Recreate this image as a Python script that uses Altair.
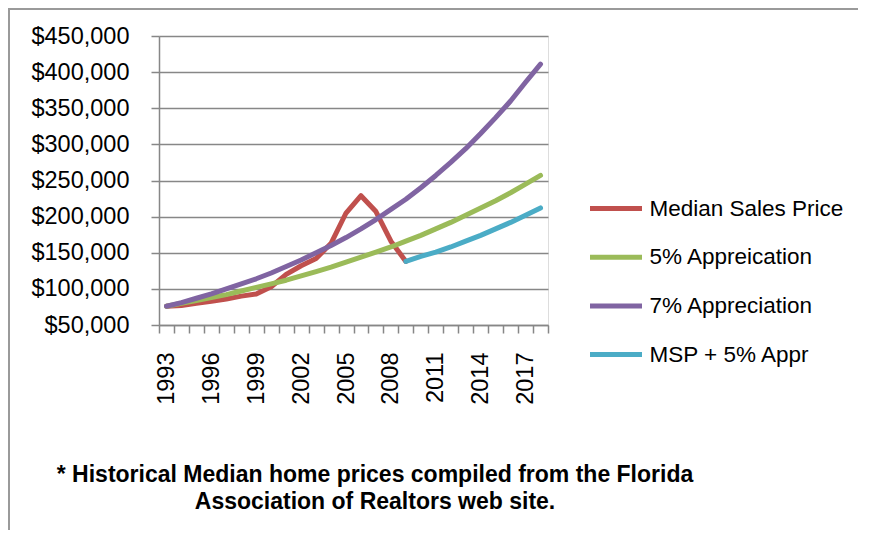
import altair as alt
import pandas as pd

years = list(range(1993, 2019))
median_sales = [76000, 77000, 80000, 83000, 86000, 90000, 93000, 103000, 120000,
                132000, 142000, 163000, 205000, 229000, 207000, 166000, 138000] + [None] * 9
appr5 = [76000, 80000, 84000, 88000, 92000, 97000, 102000, 107000, 112000, 118000,
         124000, 130000, 137000, 144000, 151000, 158000, 166000, 174000, 183000, 192000,
         202000, 212000, 222000, 233000, 245000, 257000]
appr7 = [76000, 81000, 87000, 93000, 100000, 107000, 114000, 122000, 131000, 140000,
         150000, 160000, 171000, 183000, 196000, 210000, 224000, 240000, 257000, 275000,
         294000, 315000, 337000, 360000, 386000, 411000]
msp5 = [None] * 16 + [138000, 145000, 151000, 158000, 166000, 174000, 183000, 192000,
                      202000, 212000]

series_names = ["Median Sales Price", "5% Appreication", "7% Appreciation", "MSP + 5% Appr"]
series_values = [median_sales, appr5, appr7, msp5]
colors = ["#C0504D", "#9BBB59", "#8064A2", "#4BACC6"]

y_ticks = [50000, 100000, 150000, 200000, 250000, 300000, 350000, 400000, 450000]
x_label_years = [1993, 1996, 1999, 2002, 2005, 2008, 2011, 2014, 2017]
x_tick_edges = [y - 0.5 for y in years] + [years[-1] + 0.5]

footnote_lines = ["* Historical Median home prices compiled from the Florida",
                  "Association of Realtors web site."]

rows = []
for name, vals in zip(series_names, series_values):
    for yr, v in zip(years, vals):
        if v is not None:
            rows.append({"year": yr, "price": v, "series": name})
df = pd.DataFrame(rows)

FONT = "Liberation Sans"
GRAY = "#878787"
W, H = 389, 289

label_list = ",".join(str(v) for v in x_label_years)
x_axis = alt.Axis(
    values=x_tick_edges,
    labelExpr=f"indexof([{label_list}], datum.value + 0.5) >= 0 ? toString(datum.value + 0.5) : ''",
    labelOffset=W / len(years) / 2,
    labelAngle=270,
    labelPadding=19,
    labelFont=FONT,
    labelFontSize=23.5,
    labelColor="#000000",
    labelOverlap=False,
    labelFlush=False,
    tickSize=8,
    tickColor=GRAY,
    tickWidth=1.5,
    domainColor=GRAY,
    domainWidth=1.5,
    grid=False,
    title=None,
)
y_axis = alt.Axis(
    values=y_ticks,
    format="$,.0f",
    labelFont=FONT,
    labelFontSize=23.5,
    labelColor="#000000",
    labelPadding=22,
    tickSize=8,
    tickColor=GRAY,
    tickWidth=1.5,
    domainColor=GRAY,
    domainWidth=1.5,
    gridColor=GRAY,
    gridWidth=1.5,
    title=None,
)
legend = alt.Legend(
    title=None,
    orient="none",
    legendX=428.5,
    legendY=144,
    padding=0,
    symbolType="stroke",
    symbolSize=2704,
    symbolStrokeWidth=5,
    labelFont=FONT,
    labelFontSize=22.5,
    labelColor="#000000",
    labelOffset=5,
    labelLimit=0,
    rowPadding=8.7,
)

x_enc = alt.X("year:Q", scale=alt.Scale(domain=[1992.5, 2018.5], nice=False, zero=False), axis=x_axis)
y_enc = alt.Y("price:Q", scale=alt.Scale(domain=[50000, 450000], nice=False, zero=False), axis=y_axis)
c_enc = alt.Color("series:N", scale=alt.Scale(domain=series_names, range=colors), legend=legend)

layers = []
for name in series_names:
    layers.append(
        alt.Chart(df)
        .transform_filter(alt.datum.series == name)
        .mark_line(strokeWidth=5, strokeCap="round", strokeJoin="round")
        .encode(x=x_enc, y=y_enc, color=c_enc, order="year:Q")
    )

one = pd.DataFrame({"a": [0]})
frame_top = alt.Chart(one).mark_rule(color="#9a9a9a", strokeWidth=2).encode(
    x=alt.value(-160), x2=alt.value(720), y=alt.value(-27))
frame_left = alt.Chart(one).mark_rule(color="#9a9a9a", strokeWidth=2).encode(
    x=alt.value(-150), y=alt.value(-28), y2=alt.value(520))

notes = []
for i, line in enumerate(footnote_lines):
    notes.append(
        alt.Chart(pd.DataFrame({"t": [line]}))
        .mark_text(font=FONT, fontSize=23, fontWeight="bold", color="#000000",
                   align="center", baseline="alphabetic")
        .encode(text="t:N", x=alt.value(216), y=alt.value(446 + 27 * i))
    )

chart = alt.layer(*layers, frame_top, frame_left, *notes).properties(
    width=W,
    height=H,
    padding={"left": 151, "top": 28, "right": 310, "bottom": 205},
    autosize=alt.AutoSizeParams(type="none"),
).configure_view(strokeWidth=0).configure(background="white")

chart.save("out.html", embed_options={"renderer": "svg", "actions": False})
